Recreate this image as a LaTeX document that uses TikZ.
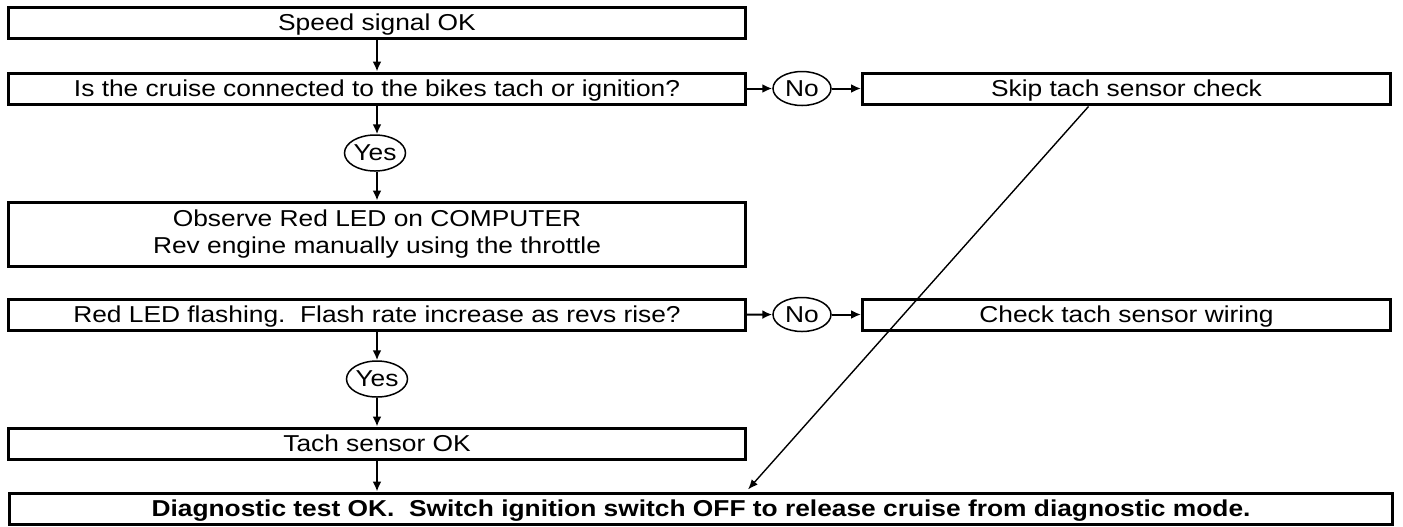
\documentclass[tikz,border=0pt]{standalone}
\usepackage{fontspec}
\setmainfont{Liberation Sans}[FakeStretch=1.145]
\usetikzlibrary{shapes.geometric,arrows.meta}
\tikzset{stepbox/.style={draw, rectangle, line width=1.5pt, minimum width=368.5pt, minimum height=15.5pt, inner sep=0pt, align=center, text height=8.3pt, text depth=0.7pt},
  twobox/.style={draw, rectangle, line width=1.5pt, minimum width=368.5pt, minimum height=32pt, inner sep=0pt, align=center, font=\fontsize{11.5}{13.5}\selectfont},
  answer/.style={draw, ellipse, line width=0.75pt, minimum width=29pt, minimum height=17pt, inner sep=0pt,
    execute at begin node={\hbox to 0pt\bgroup\hss}, execute at end node={\hss\egroup}},
  flow/.style={-{Latex[length=5pt,width=4.5pt]}, line width=1pt}}

\begin{document}
\begin{tikzpicture}[x=0.5pt, y=-0.5pt, font=\fontsize{11.5}{13.5}\selectfont]
  \useasboundingbox (0,0) rectangle (1403,526);
  % left column
  \node [stepbox] (speed) at (377,23) {Speed signal OK};
  \node [stepbox] (cruise) at (377,88.5) {Is the cruise connected to the bikes tach or ignition?};
  \node [answer, minimum width=30.5pt, minimum height=18pt] (yesA) at (375,153) {Yes};
  \node [twobox] (observe) at (377,234) {Observe Red LED on COMPUTER\\Rev engine manually using the throttle};
  \node [stepbox] (flash) at (377,315) {Red LED flashing.\ \ Flash rate increase as revs rise?};
  \node [answer, minimum width=30.5pt, minimum height=18pt] (yesB) at (377,379) {Yes};
  \node [stepbox] (tachok) at (377,443.5) {Tach sensor OK};
  % right column
  \node [answer] (noA) at (802,88.5) {No};
  \node [stepbox, minimum width=264pt] (skip) at (1126.5,88.5) {Skip tach sensor check};
  \node [answer] (noB) at (802,314.5) {No};
  \node [stepbox, minimum width=264pt] (wiring) at (1126.5,314.5) {Check tach sensor wiring};
  % bottom
  \node [stepbox, minimum width=691.5pt, font=\fontsize{11.5}{13.5}\selectfont\bfseries] (diag) at (701,508.5)
    {Diagnostic test OK.\ \ Switch ignition switch OFF to release cruise from diagnostic mode.};
  \coordinate (skipfoot) at ([xshift=-19pt,yshift=-0.5pt]skip.south);
  \coordinate (diagtop) at ([xshift=23.5pt,yshift=1pt]diag.north);

  \draw [flow] (speed) -- (cruise);
  \draw [flow] (cruise.south) -- (cruise.south |- yesA.north);
  \draw [flow] (cruise.south |- yesA.south) -- (observe);
  \draw [flow] (cruise) -- (noA);
  \draw [flow] (noA) -- (skip);
  \draw [flow] (flash) -- (yesB);
  \draw [flow] (yesB) -- (tachok);
  \draw [flow] (flash) -- (noB);
  \draw [flow] (noB) -- (wiring);
  \draw [flow] (tachok) -- (tachok |- diag.north);
  \draw [-{Latex[length=5pt,width=4pt]}, line width=0.7pt] (skipfoot) -- (diagtop);
\end{tikzpicture}
\end{document}
